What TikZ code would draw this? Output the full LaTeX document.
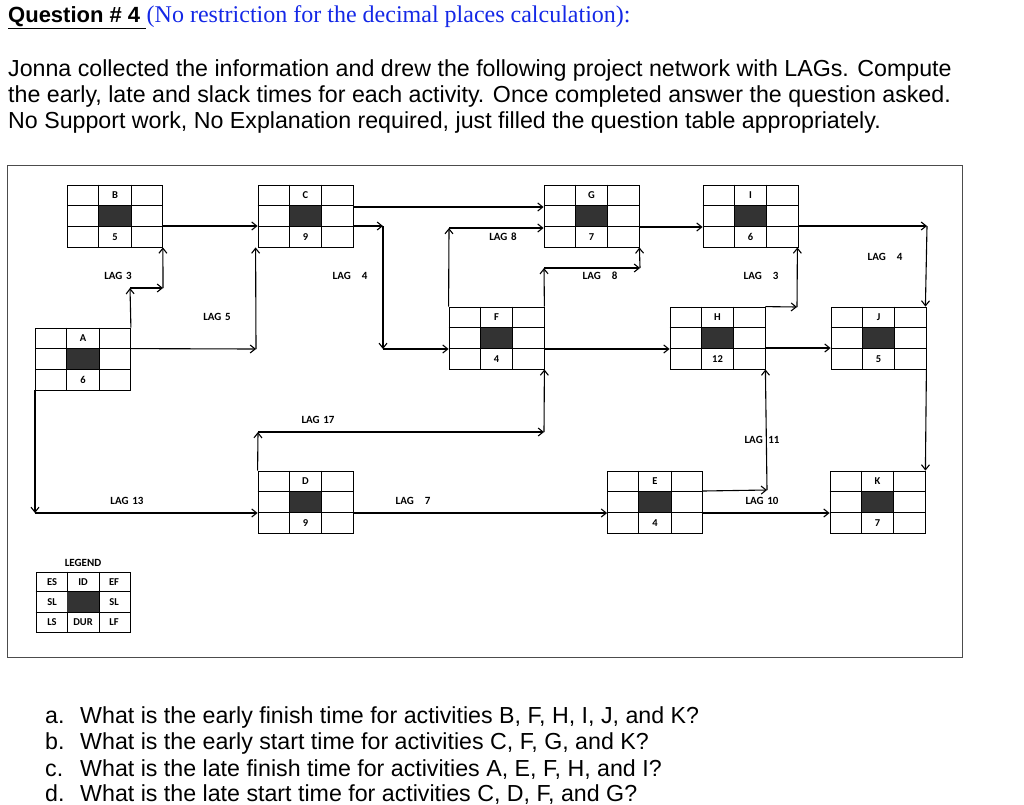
\documentclass[tikz,border=0pt]{standalone}
\usepackage{fontspec}
\setmainfont{Liberation Sans}
\newfontfamily\tnr{Liberation Serif}
\newfontfamily\carl{Carlito}
\usetikzlibrary{arrows.meta}
\definecolor{qblue}{RGB}{20,40,230}
\tikzset{
  box/.style={draw,line width=0.8pt,minimum width=95pt,minimum height=62pt,inner sep=0pt},
  cell/.style={font=\carl\bfseries\fontsize{10.5}{10.5}\selectfont,inner sep=0pt},
  lag/.style={font=\carl\bfseries\fontsize{11}{11}\selectfont,inner sep=0pt},
  con/.style={line width=1.1pt,-{Straight Barb[length=5pt,width=8pt]}},
  txt/.style={anchor=base west,inner sep=0pt,font=\fontsize{23.2}{26}\selectfont},
}
\newcommand{\act}[5]{%
  \node[box] (#1) at (#2,#3) {};
  \draw[line width=0.8pt] ([xshift=31.67pt]#1.north west) -- ([xshift=31.67pt]#1.south west)
    ([xshift=-31.67pt]#1.north east) -- ([xshift=-31.67pt]#1.south east)
    ([yshift=-20.67pt]#1.north west) -- ([yshift=-20.67pt]#1.north east)
    ([yshift=20.67pt]#1.south west) -- ([yshift=20.67pt]#1.south east);
  \fill[black!80] ([xshift=-15.8pt,yshift=-10.3pt]#1.center) rectangle ([xshift=15.8pt,yshift=10.3pt]#1.center);
  \node[cell] (#1-id) at ([yshift=-10.3pt]#1.north) {#4};
  \node[cell] (#1-dur) at ([yshift=10.3pt]#1.south) {#5};
}
\begin{document}
\begin{tikzpicture}[x=1pt,y=-1pt]
\useasboundingbox (0,0) rectangle (1024,804);
% texts
\node[txt,font=\fontsize{22}{26}\selectfont] (title) at (8,22) {\bfseries\underline{Question \# 4\ }};
\node[txt,text=qblue,font=\fontsize{24}{26}\selectfont] (sub) at (title.base east) {\tnr (No restriction for the decimal places calculation):};
\node[txt] (p1) at (8,76) {Jonna collected the information and drew the following project network with LAGs. Compute};
\node[txt] (p2) at (8,102) {the early, late and slack times for each activity. Once completed answer the question asked.};
\node[txt] (p3) at (8,128) {No Support work, No Explanation required, just filled the question table appropriately.};
\node[txt] (qa0) at (45,723) {a.};\node[txt] (qa) at (80,723) {What is the early finish time for activities B, F, H, I, J, and K?};
\node[txt] (qb0) at (45,749) {b.};\node[txt] (qb) at (80,749) {What is the early start time for activities C, F, G, and K?};
\node[txt] (qc0) at (45,776) {c.};\node[txt] (qc) at (80,776) {What is the late finish time for activities A, E, F, H, and I?};
\node[txt] (qd0) at (45,801) {d.};\node[txt] (qd) at (80,801) {What is the late start time for activities C, D, F, and G?};
% frame
\draw[line width=1pt,black!70] (7,165) rectangle (962,657);
% activities
\act{B}{115}{216}{B}{5}
\act{C}{305.5}{216}{C}{9}
\act{G}{591.5}{216}{G}{7}
\act{I}{750.5}{216}{I}{6}
\act{A}{83}{359}{A}{6}
\act{F}{496.5}{338}{F}{4}
\act{H}{717.5}{338}{H}{12}
\act{J}{878.5}{338}{J}{5}
\act{D}{305.5}{502}{D}{9}
\act{E}{655}{502}{E}{4}
\act{K}{877.5}{502}{K}{7}
% legend
\node[lag] (legend) at (83,563) {LEGEND};
\node[box,minimum width=94pt,minimum height=60pt] (L) at (83,602) {};
\draw[line width=0.8pt] ([xshift=31.3pt]L.north west) -- ([xshift=31.3pt]L.south west)
  ([xshift=-31.3pt]L.north east) -- ([xshift=-31.3pt]L.south east)
  ([yshift=-20pt]L.north west) -- ([yshift=-20pt]L.north east)
  ([yshift=20pt]L.south west) -- ([yshift=20pt]L.south east);
\fill[black!80] ([xshift=-15.6pt,yshift=-10pt]L.center) rectangle ([xshift=15.6pt,yshift=10pt]L.center);
\node[cell] (l1) at (52,582) {ES};\node[cell] (l2) at (83,582) {ID};\node[cell] (l3) at (114,582) {EF};
\node[cell] (l4) at (52,602) {SL};\node[cell] (l6) at (114,602) {SL};
\node[cell] (l7) at (52,622) {LS};\node[cell] (l8) at (83,622) {DUR};\node[cell] (l9) at (114,622) {LF};
% bend coordinates
\coordinate (ab1) at (130,288); \coordinate (ab2) at (163,288);
\coordinate (ac1) at (256,349);
\coordinate (cf1) at (383,226); \coordinate (cf2) at (383,349);
\coordinate (fg1) at (449,228);
\coordinate (fg2) at (544,268); \coordinate (fg3) at (640,268);
\coordinate (ij1) at (927,226);
\coordinate (hi1) at (797,307);
\coordinate (df1) at (258,432); \coordinate (df2) at (544,432);
\coordinate (eh1) at (767,490);
\coordinate (ad1) at (35,513);
% connectors
\draw[con] (A.north east) -- (ab1);
\draw[con] (ab1) -- (ab2);
\draw[con] (ab2) -- (B.south east);
\draw[con] ([yshift=-21pt]A.north east) -- (ac1);
\draw[con] (ac1) -- ([xshift=-2pt]C.south west);
\draw[con] ([yshift=-10pt]B.east) -- ([yshift=-10pt]C.west);
\draw[con] ([yshift=9pt]C.east) -- ([yshift=9pt]G.west);
\draw[con] ([yshift=-10pt]C.east) -- (cf1);
\draw[con] (cf1) -- (cf2);
\draw[con] (cf2) -- ([yshift=-11pt]F.west);
\draw[con] (F.north west) -- (fg1);
\draw[con] (fg1) -- ([yshift=-12pt]G.west);
\draw[con] (F.north east) -- (fg2);
\draw[con] (fg2) -- (fg3);
\draw[con] (fg3) -- (G.south east);
\draw[con] ([yshift=-11pt]G.east) -- ([yshift=-11pt]I.west);
\draw[con] ([yshift=-10pt]I.east) -- (ij1);
\draw[con] (ij1) -- ([xshift=-1pt]J.north east);
\draw[con] (H.north east) -- (hi1);
\draw[con] (hi1) -- ([xshift=-1pt]I.south east);
\draw[con] ([yshift=-11pt]F.east) -- ([yshift=-11pt]H.west);
\draw[con] ([yshift=-10pt]H.east) -- ([yshift=-10pt]J.west);
\draw[con] (D.north west) -- (df1);
\draw[con] (df1) -- (df2);
\draw[con] (df2) -- (F.south east);
\draw[con] ([yshift=11pt]E.east) -- (eh1);
\draw[con] (eh1) -- (H.south east);
\draw[con] ([yshift=-11pt]E.east) -- ([yshift=-11pt]K.west);
\draw[con] ([yshift=-11pt]D.east) -- ([yshift=-11pt]E.west);
\draw[con] ([xshift=-48pt]A.south) -- (ad1);
\draw[con] (ad1) -- ([yshift=-11pt]D.west);
\draw[con] (J.south east) -- (K.north east);
% lag labels
\node[lag] (lg1) at (118,276) {LAG\,\,3};
\node[lag] (lg2) at (217,317) {LAG\,\,5};
\node[lag] (lg3) at (350,276) {LAG\quad 4};
\node[lag] (lg4) at (503,237) {LAG\,\,8};
\node[lag] (lg5) at (600,276) {LAG\quad 8};
\node[lag] (lg6) at (885,257) {LAG\quad 4};
\node[lag] (lg7) at (761,276) {LAG\quad 3};
\node[lag] (lg8) at (318,420) {LAG\,\,17};
\node[lag] (lg9) at (762,440) {LAG\,\,\,11};
\node[lag] (lg10) at (762,501) {LAG\,\,10};
\node[lag] (lg11) at (413,501) {LAG\quad 7};
\node[lag] (lg12) at (127,501) {LAG\,\,13};
\end{tikzpicture}
\end{document}
